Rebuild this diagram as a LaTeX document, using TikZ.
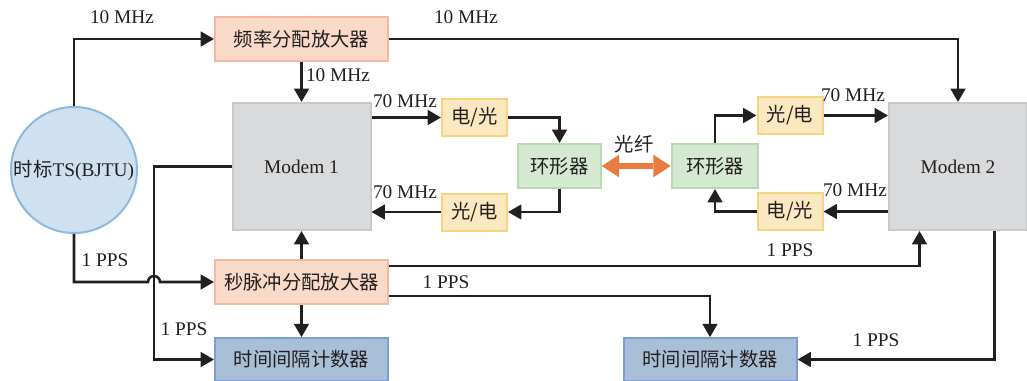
\documentclass[tikz,border=0pt]{standalone}
\usepackage{fontspec}
\setmainfont{Liberation Serif}
\newfontfamily\cjk{Noto Sans CJK SC}
\usetikzlibrary{positioning, calc, arrows.meta}
\definecolor{ink}{HTML}{231F20}
\definecolor{peachfill}{HTML}{F9D9C8}
\definecolor{peachline}{HTML}{F4B9A0}
\definecolor{grayfill}{HTML}{D9DADC}
\definecolor{grayline}{HTML}{C8C9CB}
\definecolor{yellowfill}{HTML}{FBE8C1}
\definecolor{yellowline}{HTML}{F6D37E}
\definecolor{greenfill}{HTML}{D5E8D2}
\definecolor{greenline}{HTML}{B7DAB1}
\definecolor{bluefill}{HTML}{CFE1F1}
\definecolor{blueline}{HTML}{8DB9DD}
\definecolor{slatefill}{HTML}{A9BFD8}
\definecolor{slateline}{HTML}{7D9ED3}
\definecolor{fiberorange}{HTML}{E87B40}
\newcommand{\zh}[1]{{\cjk #1}}

\begin{document}
\begin{tikzpicture}[x=0.75pt, y=-0.75pt,
    every node/.style={font=\fontsize{14.5}{17}\selectfont, text=ink},
    box/.style={rectangle, 
      draw=#1line, 
      fill=#1fill, 
      line width=1.5pt, 
      align=center, 
      inner sep=0pt},
    link/.style={draw=ink, line width=1.9pt, 
      -{Triangle[length=10pt, width=11pt]}},
    fiber/.style={draw=fiberorange, line width=5pt, 
      {Triangle[length=13pt, width=17pt, line width=0pt]}-{Triangle[length=13pt, width=17pt, line width=0pt]}}]
  \useasboundingbox (0,0) rectangle (1027,381);

  \node [circle, draw=blueline, fill=bluefill, line width=1.5pt, 
    minimum size=94.5pt, inner sep=0pt] (ts) at (74,170) {\zh{时标}TS(BJTU)};

  \node [box=peach, minimum width=129.75pt, minimum height=33pt] 
    (freqamp) at (301.5,39) {\zh{频率分配放大器}};

  \node [box=gray, minimum width=103.5pt, minimum height=95.25pt] 
    (modem1) at (301.5,166.5) {Modem 1};

  \node [box=peach, minimum width=129.75pt, minimum height=33pt] 
    (ppsamp) at (301.5,282) {\zh{秒脉冲分配放大器}};

  \node [box=slate, minimum width=129.75pt, minimum height=32pt] 
    (cnt1) at (301.5,359.5) {\zh{时间间隔计数器}};

  \node [box=yellow, minimum width=48.75pt, minimum height=27.75pt] 
    (eo1) at (474.5,117.5) {\zh{电/光}};
  \node [box=yellow, minimum width=48.75pt, minimum height=27.75pt] 
    (oe1) at (474.5,212) {\zh{光/电}};

  \node [box=green, minimum width=62pt, minimum height=33pt] 
    (circl) at (559.5,166) {\zh{环形器}};
  \node [box=green, minimum width=65pt, minimum height=33pt] 
    (circr) at (715,166) {\zh{环形器}};

  \node [box=yellow, minimum width=48.75pt, minimum height=27.75pt] 
    (oe2) at (790,115.5) {\zh{光/电}};
  \node [box=yellow, minimum width=48.75pt, minimum height=27.75pt] 
    (eo2) at (790,211.5) {\zh{电/光}};

  \node [box=gray, minimum width=103.5pt, minimum height=95.25pt] 
    (modem2) at (958,166.5) {Modem 2};

  \node [box=slate, minimum width=129.75pt, minimum height=32pt] 
    (cnt2) at (710,359.5) {\zh{时间间隔计数器}};

% LABELS

  \node (l10a) at (122,17) {10 MHz};
  \node (l10b) at (466,17) {10 MHz};
  \node (l10c) at (338,75) {10 MHz};
  \node (l70a) at (405,101) {70 MHz};
  \node (l70b) at (405,192) {70 MHz};
  \node (l70c) at (853,95) {70 MHz};
  \node (l70d) at (855,190) {70 MHz};
  \node (lfiber) at (634,144) {\zh{光纤}};
  \node (lppsa) at (105,260) {1 PPS};
  \node (lppsb) at (184,329) {1 PPS};
  \node (lppsc) at (446,282) {1 PPS};
  \node (lppsd) at (790,250) {1 PPS};
  \node (lppse) at (876,340) {1 PPS};

% SIGNAL LINES

  \coordinate (bus) at (154,0);
  \coordinate (m2in) at ($(modem2.south west)!0.225!(modem2.south east)$);
  \coordinate (m2out) at ($(modem2.south west)!0.76!(modem2.south east)$);

  \draw[link] (ts.north) |- (freqamp.west);
  \draw[link] (freqamp.east) -| (modem2.north);
  \draw[link] (freqamp.south) -- (modem1.north);

  \draw[link] (modem1.east |- eo1.west) -- (eo1.west);
  \draw[link] (eo1.east) -| (circl.north);
  \draw[link] (circl.south) |- (oe1.east);
  \draw[link] (oe1.west) -- (modem1.east |- oe1.west);

  \draw[fiber] (circl.east) -- (circr.west);

  \draw[link] (circr.north) |- (oe2.west);
  \draw[link] (oe2.east) -- (modem2.west |- oe2.east);
  \draw[link] (modem2.west |- eo2.east) -- (eo2.east);
  \draw[link] (eo2.west) -| (circr.south);

  \draw[link] (modem1.west) -| (bus |- cnt1.west) -- (cnt1.west);
  \draw[link] (ts.south) |- ([xshift=-4.5pt]bus |- ppsamp.west) 
    arc[start angle=180, end angle=0, radius=4.5pt] -- (ppsamp.west);

  \draw[link] (ppsamp.north) -- (modem1.south);
  \draw[link] (ppsamp.south) -- (cnt1.north);
  \draw[link] ($(ppsamp.north east)+(0,7)$) -| (m2in);
  \draw[link] ($(ppsamp.south east)+(0,-9)$) -| (cnt2.north);
  \draw[link] (m2out) |- (cnt2.east);

\end{tikzpicture}
\end{document}
